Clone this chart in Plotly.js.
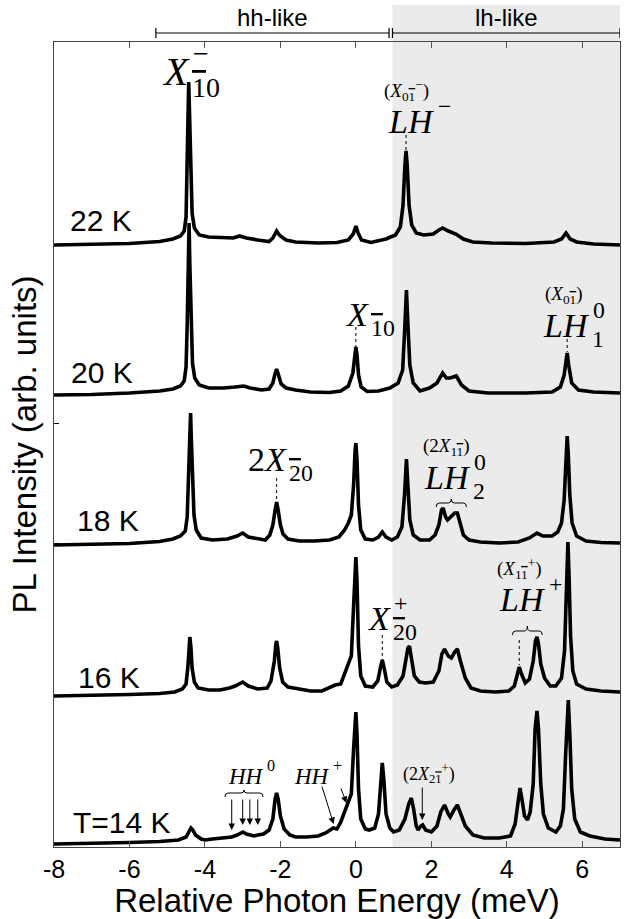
<!DOCTYPE html>
<html>
<head>
<meta charset="utf-8">
<script src="https://cdn.plot.ly/plotly-3.0.1.min.js"></script>
<style>html,body{margin:0;padding:0;background:#fff;}#chart{width:627px;height:919px;}</style>
</head>
<body>
<div id="chart"></div>
<script>
// ---- data: relative photon energy (meV) and PL intensity (arb. units) per temperature ----
const temps = ["22 K", "20 K", "18 K", "16 K", "T=14 K"];
const offsets = [602, 452, 302, 151, 3];

const energy22 = [-8,-7,-6,-5.2,-4.85,-4.65,-4.55,-4.5,-4.47,-4.45,-4.43,-4.41,-4.38,-4.34,-4.28,-4.15,-3.9,-3.5,-3.25,-3.08,-2.9,-2.6,-2.3,-2.2,-2.14,-2.1,-2.05,-2.0,-1.85,-1.6,-1.0,-0.5,-0.2,-0.07,0.0,0.06,0.15,0.4,0.8,1.05,1.18,1.25,1.3,1.33,1.36,1.41,1.48,1.6,1.8,2.05,2.2,2.3,2.45,2.65,2.85,3.1,3.6,4.5,5.25,5.45,5.57,5.68,5.85,6.3,7];
const pl22 = [0,0.5,1.5,3.5,6,9,14,28,70,125,163,125,70,32,17,10,8,7,7,9,7,5,3.5,7,12,14,11,9,5,3,2,2.5,5,11,19,12,5,2.5,6,10,18,40,80,94,80,40,20,12,10,11,15,17,14,11,6,3,2,1.5,3,6,12,6,3,1,0];

const energy20 = [-8,-7,-6,-5.2,-4.85,-4.65,-4.55,-4.5,-4.47,-4.44,-4.42,-4.4,-4.37,-4.33,-4.27,-4.15,-3.9,-3.5,-3.2,-2.97,-2.8,-2.5,-2.3,-2.2,-2.15,-2.1,-2.05,-1.98,-1.85,-1.6,-1.2,-0.7,-0.4,-0.2,-0.08,-0.03,0.0,0.03,0.07,0.14,0.3,0.6,0.9,1.12,1.24,1.3,1.34,1.38,1.43,1.52,1.7,1.95,2.15,2.3,2.4,2.5,2.66,2.8,3.0,3.5,4.5,5.2,5.42,5.52,5.56,5.6,5.64,5.72,5.9,6.3,7];
const pl20 = [0,0.5,2,4,6,9,14,28,70,130,172,130,70,32,17,10,7,7,8,9,7,5,6,12,20,26,20,11,7,5,3,2.5,4,9,22,40,48,40,20,8,3.5,4,7,12,25,70,105,70,30,12,4,7,12,22,17,17,19,10,4,2,2,3,8,20,32,42,30,12,5,3,2];

const energy18 = [-8,-7,-6,-5.2,-4.85,-4.65,-4.52,-4.47,-4.43,-4.4,-4.38,-4.36,-4.33,-4.29,-4.23,-4.1,-3.8,-3.4,-3.15,-3.0,-2.85,-2.6,-2.4,-2.28,-2.2,-2.14,-2.1,-2.06,-2.0,-1.93,-1.8,-1.5,-1.1,-0.7,-0.45,-0.3,-0.2,-0.12,-0.06,-0.02,0.0,0.03,0.07,0.13,0.25,0.45,0.6,0.7,0.8,0.95,1.1,1.22,1.29,1.34,1.38,1.43,1.52,1.7,1.95,2.1,2.2,2.27,2.31,2.38,2.43,2.52,2.62,2.69,2.76,2.85,3.0,3.3,3.8,4.3,4.6,4.8,4.95,5.2,5.35,5.45,5.52,5.57,5.6,5.63,5.67,5.73,5.85,6.1,6.5,7];
const pl18 = [0,0.5,1.5,3.5,6,9,14,28,65,105,132,105,65,30,15,7,5,6,9,12,8,6,5,10,20,35,43,35,20,11,6,4,4,5,8,15,22,30,60,95,102,85,40,15,6,5,8,13,8,5,8,18,50,86,60,25,10,5,5,10,20,35,37,28,25,28,32,32,22,10,5,3,2,3,7,12,9,9,13,22,45,90,109,90,50,22,9,4,2.5,2];

const energy16 = [-8,-7,-6,-5.2,-4.8,-4.6,-4.5,-4.45,-4.42,-4.4,-4.37,-4.34,-4.28,-4.18,-3.9,-3.6,-3.35,-3.2,-3.0,-2.85,-2.6,-2.35,-2.25,-2.16,-2.12,-2.1,-2.07,-2.02,-1.94,-1.8,-1.5,-1.2,-0.9,-0.7,-0.55,-0.4,-0.3,-0.22,-0.12,-0.06,-0.02,0.0,0.03,0.07,0.13,0.25,0.45,0.58,0.65,0.7,0.75,0.82,0.95,1.1,1.25,1.33,1.38,1.42,1.47,1.55,1.68,1.85,2.05,2.2,2.28,2.35,2.45,2.53,2.62,2.69,2.77,2.9,3.05,3.3,3.7,4.05,4.2,4.28,4.33,4.39,4.49,4.6,4.7,4.76,4.8,4.84,4.9,5.0,5.15,5.3,5.45,5.53,5.58,5.62,5.65,5.69,5.75,5.85,6.1,6.5,7];
const pl16 = [0,0.5,1.5,2.5,4,7,12,30,50,59,48,28,14,8,6,6,8,10,14,10,7,8,15,35,52,55,48,28,14,9,7,5,5,8,11,12,22,29,40,90,130,139,115,50,20,10,9,15,28,36,28,14,9,11,20,35,48,50,38,20,14,13,14,25,42,47,40,38,44,47,35,18,8,5,4,5,10,22,29,22,13,17,35,55,59,52,32,18,10,10,18,45,110,154,120,60,25,12,7,5,4];

const energy14 = [-8,-7,-6,-5.2,-4.7,-4.5,-4.42,-4.37,-4.32,-4.25,-4.1,-4.0,-3.8,-3.5,-3.29,-3.15,-2.99,-2.9,-2.8,-2.7,-2.6,-2.45,-2.3,-2.2,-2.14,-2.1,-2.06,-2.0,-1.9,-1.75,-1.6,-1.3,-1.0,-0.8,-0.6,-0.5,-0.4,-0.28,-0.22,-0.12,-0.06,-0.02,0.0,0.03,0.07,0.13,0.25,0.35,0.5,0.6,0.66,0.7,0.74,0.8,0.9,1.0,1.15,1.3,1.4,1.47,1.53,1.6,1.65,1.72,1.77,1.85,2.0,2.15,2.25,2.35,2.45,2.5,2.6,2.69,2.78,2.9,3.1,3.4,3.8,4.1,4.22,4.3,4.35,4.4,4.47,4.55,4.62,4.7,4.75,4.8,4.84,4.9,4.97,5.1,5.3,5.42,5.5,5.56,5.6,5.63,5.67,5.72,5.8,5.95,6.2,6.6,7];
const pl14 = [0,0.5,1.5,2.5,4,7,12,16,14,9,5,4,5,6,7,9,12,10,9,8,9,10,14,25,45,51,45,28,15,9,7,7,8,11,16,15,22,35,39,50,95,128,132,110,55,25,15,14,16,30,65,81,65,30,16,12,14,25,40,46,35,18,14,18,19,14,12,18,32,39,30,27,34,39,30,18,9,6,6,8,20,45,56,45,28,24,32,60,115,133,115,60,30,16,12,18,35,90,135,144,110,55,25,12,8,5,4];

const energyArrays = [energy22, energy20, energy18, energy16, energy14];
const plArrays = [pl22, pl20, pl18, pl16, pl14];

const xTickVals = [-8, -6, -4, -2, 0, 2, 4, 6];

// ---- traces ----
const traces = energyArrays.map((xs, i) => ({
  x: xs,
  y: plArrays[i].map(v => v + offsets[i]),
  type: 'scatter',
  mode: 'lines',
  name: temps[i],
  line: {color: '#000', width: 3.6},
  hoverinfo: 'skip',
  showlegend: false
}));

// ---- annotations ----
const SANS = 'Liberation Sans, Arial, Helvetica, sans-serif';
const SERIF = 'Liberation Serif, Times New Roman, serif';
const ann = [];

// temperature labels
const tempPos = [[-7.63, 627], [-7.61, 475], [-7.45, 327], [-7.43, 170], [-7.56, 25]];
temps.forEach((t, i) => ann.push({
  x: tempPos[i][0], y: tempPos[i][1], xref: 'x', yref: 'y', text: t, showarrow: false,
  xanchor: 'left', yanchor: 'middle', font: {family: SANS, size: 30, color: '#000'}
}));

// math label helper: junction (right edge of base text), vertical center
function mathLabel(x, y, base, sup, sub, size) {
  ann.push({x: x, y: y, xref: 'x', yref: 'y', text: base, showarrow: false, xanchor: 'right', yanchor: 'middle',
    font: {family: SERIF, size: size, color: '#000'}});
  if (sup) ann.push({x: x, y: y, xref: 'x', yref: 'y', text: sup, showarrow: false, xanchor: 'left', yanchor: 'middle',
    yshift: size * 0.45, xshift: -1, font: {family: SERIF, size: size * 0.7, color: '#000'}});
  if (sub) ann.push({x: x, y: y, xref: 'x', yref: 'y', text: sub, showarrow: false, xanchor: 'left', yanchor: 'middle',
    yshift: -size * 0.4, xshift: -2, font: {family: SERIF, size: size * 0.7, color: '#000'}});
}
function smallLabel(x, y, html, size) {
  ann.push({x: x, y: y, xref: 'x', yref: 'y', text: html, showarrow: false, xanchor: 'center', yanchor: 'middle',
    font: {family: SERIF, size: size, color: '#000'}});
}
const ob = d => '<span style="text-decoration:overline">' + d + '</span>';
const bar1 = ob('1'), bar2 = ob('2');

mathLabel(-4.35, 776, '<i>X</i>', '\u2212', bar1 + '0', 40);
smallLabel(1.34, 757, '(<i>X</i><sub>0' + bar1 + '</sub><sup>\u2212</sup>)', 19);
mathLabel(2.16, 726, '<i>LH</i>', '\u2212', '', 34);
mathLabel(0.39, 533, '<i>X</i>', '', bar1 + '0', 34);
smallLabel(5.52, 552, '(<i>X</i><sub>0' + bar1 + '</sub>)', 19);
mathLabel(6.26, 522, '<i>LH</i>', '0', '1', 34);
mathLabel(-1.76, 388, '2<i>X</i>', '', bar2 + '0', 34);
smallLabel(2.4, 400, '(2<i>X</i><sub>1' + bar1 + '</sub>)', 19);
mathLabel(3.1, 370, '<i>LH</i>', '0', '2', 34);
mathLabel(0.99, 229, '<i>X</i>', '+', bar2 + '0', 34);
smallLabel(4.33, 279, '(<i>X</i><sub>1' + bar1 + '</sub><sup>+</sup>)', 19);
mathLabel(5.1, 248, '<i>LH</i>', '+', '', 34);
mathLabel(-2.37, 71, '<i>HH</i>', '0', '', 23);
mathLabel(-0.62, 71, '<i>HH</i>', '+', '', 23);
smallLabel(1.95, 74, '(2<i>X</i><sub>2' + bar1 + '</sub><sup>+</sup>)', 18);

// arrows
function arrow(x0, y0, x1, y1) {
  ann.push({x: x1, y: y1, ax: x0, ay: y0, xref: 'x', yref: 'y', axref: 'x', ayref: 'y', text: '',
    showarrow: true, arrowhead: 2, arrowsize: 1.3, arrowwidth: 1, arrowcolor: '#000'});
}
[-3.29, -3.0, -2.81, -2.6].forEach((xx, k) => arrow(xx, 49, xx, k === 0 ? 17 : 22));
arrow(-0.91, 62, -0.59, 23);
arrow(-0.41, 60, -0.25, 44);
arrow(1.76, 61, 1.76, 27);

// top range labels
ann.push({x: -2.2, y: 1.03, xref: 'x', yref: 'paper', text: 'hh-like', showarrow: false, yanchor: 'middle',
  font: {family: SANS, size: 24, color: '#000'}});
ann.push({x: 3.98, y: 1.03, xref: 'x', yref: 'paper', text: 'lh-like', showarrow: false, yanchor: 'middle',
  font: {family: SANS, size: 24, color: '#000'}});

// ---- shapes ----
const shapes = [];
shapes.push({type: 'rect', xref: 'x', yref: 'paper', x0: 0.97, x1: 7, y0: 0, y1: 1.046,
  fillcolor: '#ebebeb', line: {width: 0}, layer: 'below'});
function bracket(x0, x1) {
  const yc = 1.0112, ya = 1.0174, yb = 1.005;
  shapes.push({type: 'line', xref: 'x', yref: 'paper', x0: x0, x1: x1, y0: yc, y1: yc, line: {color: '#000', width: 1.2}});
  shapes.push({type: 'line', xref: 'x', yref: 'paper', x0: x0, x1: x0, y0: ya, y1: yb, line: {color: '#000', width: 1.2}});
  shapes.push({type: 'line', xref: 'x', yref: 'paper', x0: x1, x1: x1, y0: ya, y1: yb, line: {color: '#000', width: 1.2}});
}
bracket(-5.3, 0.88);
bracket(0.97, 7);
function dotted(x, y0, y1) {
  shapes.push({type: 'line', xref: 'x', yref: 'y', x0: x, x1: x, y0: y0, y1: y1, line: {color: '#000', width: 1, dash: 'dot'}});
}
dotted(1.33, 712, 697);
dotted(0.0, 520, 500);
dotted(5.6, 508, 495);
dotted(-2.1, 369, 347);
dotted(0.7, 212, 187);
dotted(4.33, 207, 182);
function brace(x0, x1, yb, ym, yt) {
  const xm = (x0 + x1) / 2, d = 0.08;
  const p = `M ${x0},${yb} Q ${x0},${ym} ${x0 + d},${ym} L ${xm - d},${ym} Q ${xm},${ym} ${xm},${yt} ` +
            `Q ${xm},${ym} ${xm + d},${ym} L ${x1 - d},${ym} Q ${x1},${ym} ${x1},${yb}`;
  shapes.push({type: 'path', xref: 'x', yref: 'y', path: p, line: {color: '#000', width: 1}});
}
brace(2.13, 2.93, 340, 344, 348);
brace(4.15, 4.94, 212, 216, 221);
brace(-3.47, -2.46, 50, 54, 57);

const layout = {
  width: 627, height: 919,
  margin: {l: 54, r: 7, t: 42, b: 72},
  paper_bgcolor: '#fff', plot_bgcolor: '#fff',
  showlegend: false,
  xaxis: {
    range: [-8, 7], tickvals: xTickVals, ticktext: xTickVals.map(String),
    ticks: 'inside', ticklen: 6, tickwidth: 1, tickcolor: '#555',
    showline: true, linecolor: '#444', linewidth: 1, mirror: 'ticks',
    showgrid: false, zeroline: false,
    tickfont: {family: SANS, size: 25, color: '#000'},
    title: {text: 'Relative Photon Energy (meV)', font: {family: SANS, size: 33, color: '#000'}, standoff: 10}
  },
  yaxis: {
    range: [0, 805], showticklabels: false, tickvals: [304, 424], ticks: 'inside', ticklen: 5, tickcolor: '#000',
    showline: true, linecolor: '#444', linewidth: 1, mirror: true,
    showgrid: false, zeroline: false,
    title: {text: 'PL Intensity (arb. units)', font: {family: SANS, size: 33, color: '#000'}, standoff: 6}
  },
  annotations: ann,
  shapes: shapes
};

Plotly.newPlot('chart', traces, layout, {displayModeBar: false, staticPlot: true});
</script>
</body>
</html>
